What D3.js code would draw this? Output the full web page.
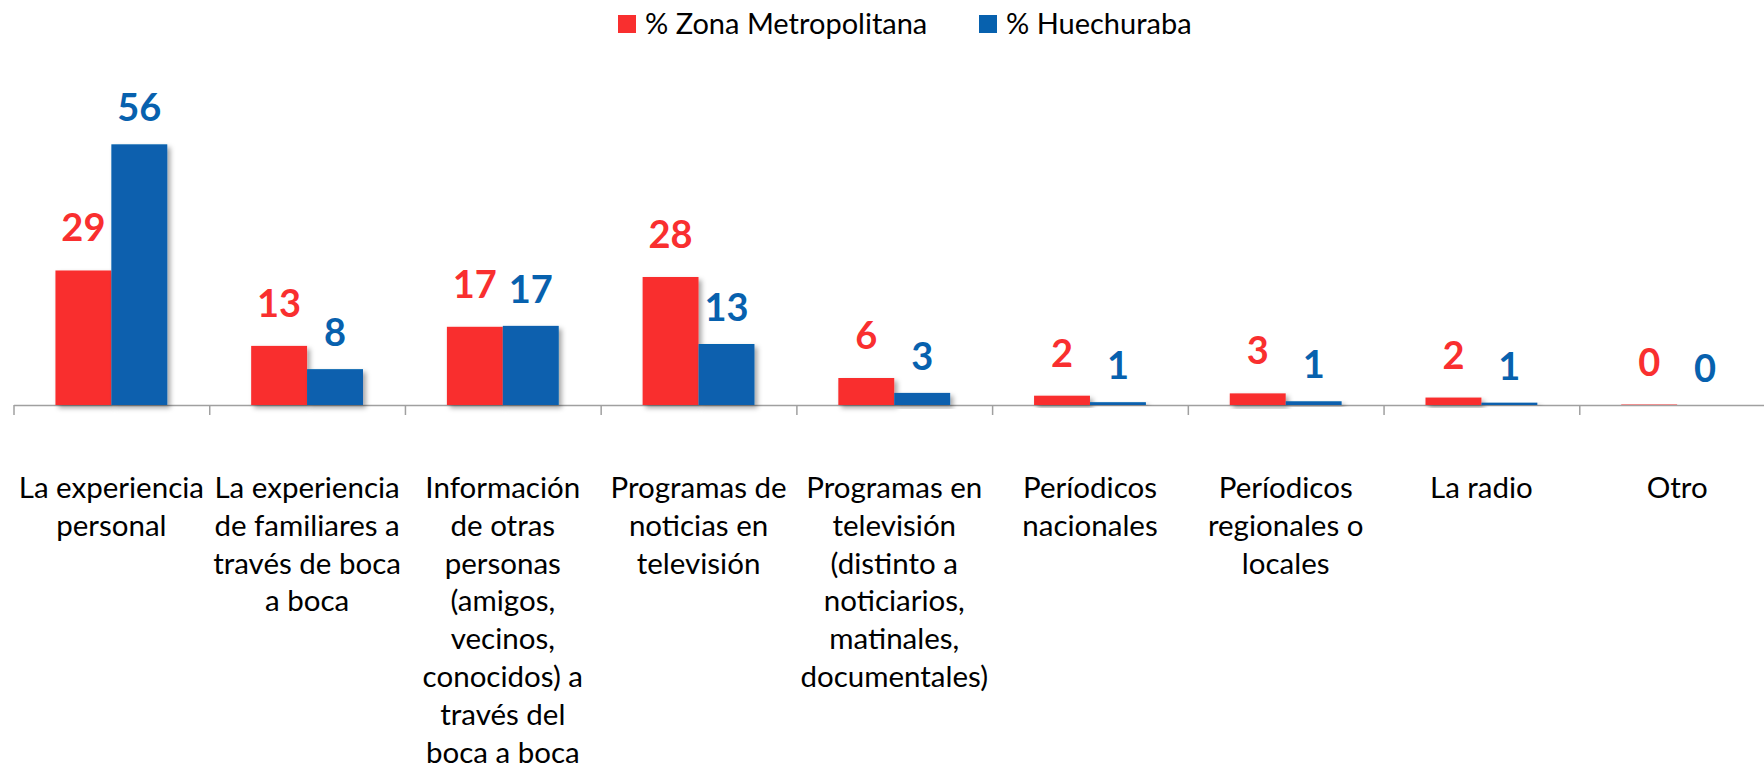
<!DOCTYPE html>
<html>
<head>
<meta charset="utf-8">
<script src="https://cdn.jsdelivr.net/npm/d3@7"></script>
<style>
  body { margin: 0; background: #fff; }
  svg { display: block; }
  text { font-family: Lato, "Open Sans", sans-serif; }
</style>
</head>
<body>
<svg id="chart" width="1764" height="769"></svg>
<script>
// data
let categories = [
    ["La experiencia", "personal"],
    ["La experiencia", "de familiares a", "través de boca", "a boca"],
    ["Información", "de otras", "personas", "(amigos,", "vecinos,", "conocidos) a", "través del", "boca a boca"],
    ["Programas de", "noticias en", "televisión"],
    ["Programas en", "televisión", "(distinto a", "noticiarios,", "matinales,", "documentales)"],
    ["Períodicos", "nacionales"],
    ["Períodicos", "regionales o", "locales"],
    ["La radio"],
    ["Otro"]
];
let seriesNames = ["% Zona Metropolitana", "% Huechuraba"];
let zonaMetro = [28.9, 12.7, 16.8, 27.5, 5.8, 2.0, 2.5, 1.6, 0.1];
let huechuraba = [56.0, 7.7, 17.0, 13.1, 2.6, 0.6, 0.8, 0.5, 0.0];
let zonaMetroLabels = [29, 13, 17, 28, 6, 2, 3, 2, 0];
let huechurabaLabels = [56, 8, 17, 13, 3, 1, 1, 1, 0];
let colors = ["#f92f2f", "#0761ae"];

function init() {
    let svg = d3.select("#chart");

    let defs = svg.append("defs");
    defs.append("filter")
        .attr("id", "shadow")
        .attr("x", "-20%").attr("y", "-20%")
        .attr("width", "150%").attr("height", "150%")
        .append("feDropShadow")
        .attr("dx", 3).attr("dy", 3)
        .attr("stdDeviation", 2.5)
        .attr("flood-color", "#000")
        .attr("flood-opacity", 0.35);

    let left = 13.5, right = 1775, baseline = 405;

    let idx = d3.range(categories.length);
    let x0 = d3.scaleBand().domain(idx).range([left, right]).padding(0);
    let x1 = d3.scaleBand().domain([0, 1]).range([0, x0.bandwidth()])
        .paddingInner(0).paddingOuter(0.75);
    let y = d3.scaleLinear().domain([0, 60]).range([baseline, baseline - 60 * 4.655]);

    let series = [
        { values: zonaMetro, labels: zonaMetroLabels, off: 29 },
        { values: huechuraba, labels: huechurabaLabels, off: 23 }
    ];

    // x axis with ticks on the category boundaries
    let edge = d3.scaleLinear().domain([0, categories.length]).range([left, right]);
    let axis = svg.append("g")
        .attr("transform", "translate(0," + baseline + ")")
        .call(d3.axisBottom(edge)
            .tickValues(d3.range(0, categories.length + 1))
            .tickSize(10)
            .tickSizeOuter(0)
            .tickFormat(""));
    axis.selectAll("path, line").attr("stroke", "#a0a0a0").attr("stroke-width", 1.5);

    series.forEach(function(s, si) {
        let g = svg.append("g");
        g.selectAll("rect")
            .data(s.values)
            .enter().append("rect")
            .attr("x", function(d, i) { return x0(i) + x1(si); })
            .attr("y", function(d) { return y(d); })
            .attr("width", x1.bandwidth())
            .attr("height", function(d) { return baseline - y(d); })
            .attr("fill", colors[si])
            .attr("filter", function(d) { return d > 0.2 ? "url(#shadow)" : null; });

        g.selectAll("text")
            .data(s.labels)
            .enter().append("text")
            .attr("x", function(d, i) { return x0(i) + x1(si) + x1.bandwidth() / 2; })
            .attr("y", function(d, i) { return y(s.values[i]) - s.off; })
            .attr("text-anchor", "middle")
            .attr("font-size", 38)
            .attr("font-weight", "bold")
            .attr("fill", colors[si])
            .text(function(d) { return d; });
    });

    // category labels
    let lab = svg.append("g").selectAll("text")
        .data(categories)
        .enter().append("text")
        .attr("text-anchor", "middle")
        .attr("font-size", 29.5)
        .attr("fill", "#000")
        .attr("transform", function(d, i) { return "translate(" + (x0(i) + x0.bandwidth() / 2) + ",498)"; });
    lab.selectAll("tspan")
        .data(function(d) { return d; })
        .enter().append("tspan")
        .attr("x", 0)
        .attr("y", function(d, j) { return j * 37.8; })
        .text(function(d) { return d; });

    // legend
    let legX = [618, 979];
    let leg = svg.append("g").selectAll("g")
        .data(seriesNames)
        .enter().append("g")
        .attr("transform", function(d, i) { return "translate(" + legX[i] + ",0)"; });
    leg.append("rect")
        .attr("y", 15)
        .attr("width", 18).attr("height", 18)
        .attr("fill", function(d, i) { return colors[i]; });
    leg.append("text")
        .attr("x", 27).attr("y", 34)
        .attr("font-size", 29)
        .attr("fill", "#000")
        .text(function(d) { return d; });
}

init();
</script>
</body>
</html>
